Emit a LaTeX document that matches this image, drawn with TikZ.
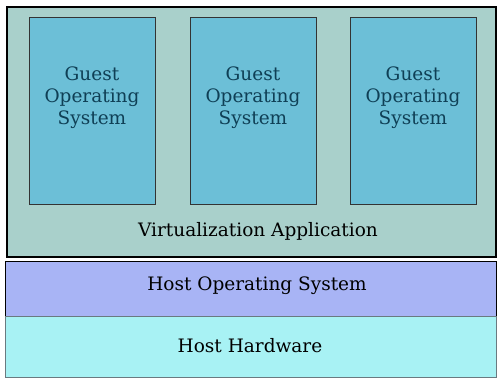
\documentclass[tikz,border=0pt]{standalone}
\usepackage{fontspec}
\setmainfont{DejaVu Serif}
\definecolor{virtfill}{HTML}{A9D0CB}
\definecolor{guestfill}{HTML}{6CBFD7}
\definecolor{guesttext}{HTML}{0F3F55}
\definecolor{hostosfill}{HTML}{A8B4F5}
\definecolor{hwfill}{HTML}{A8F2F4}
\definecolor{hwborder}{HTML}{6A7A80}
\begin{document}
\begin{tikzpicture}[x=1pt,y=-1pt,
  guestbox/.style={draw=black!80,fill=guestfill,line width=0.8pt,minimum width=126pt,minimum height=187pt,anchor=north west,inner sep=0pt},
  guestlabel/.style={text=guesttext,font=\fontsize{18.5}{22}\selectfont,align=center},
  layerlabel/.style={text=black,font=\fontsize{18.5}{22}\selectfont}]
\useasboundingbox (0,0) rectangle (500,380);
\fill[white] (0,0) rectangle (500,380);
% virtualization application
\node[draw=black,line width=2.5pt,fill=virtfill,minimum width=489pt,minimum height=250pt,anchor=north west,inner sep=0pt] (virt) at (5.5,5.5) {};
\node[layerlabel] (virtlbl) at (258,231) {Virtualization Application};
% guests
\node[guestbox] (g1) at (29,17) {};
\node[guestbox] (g2) at (190,17) {};
\node[guestbox] (g3) at (350,17) {};
\node[guestlabel] (g1l) at (92,97.5) {Guest\\Operating\\System};
\node[guestlabel] (g2l) at (253,97.5) {Guest\\Operating\\System};
\node[guestlabel] (g3l) at (413,97.5) {Guest\\Operating\\System};
% host OS
\node[draw=black,line width=0.8pt,fill=hostosfill,minimum width=491pt,minimum height=55pt,anchor=north west,inner sep=0pt] (hostos) at (4.5,260.5) {};
\node[layerlabel] (hostoslbl) at (257,285.5) {Host Operating System};
% hardware
\node[draw=hwborder,line width=1pt,fill=hwfill,minimum width=491pt,minimum height=61pt,anchor=north west,inner sep=0pt] (hw) at (4.5,316) {};
\node[layerlabel] (hwlbl) at (250,346) {Host Hardware};
\end{tikzpicture}
\end{document}
